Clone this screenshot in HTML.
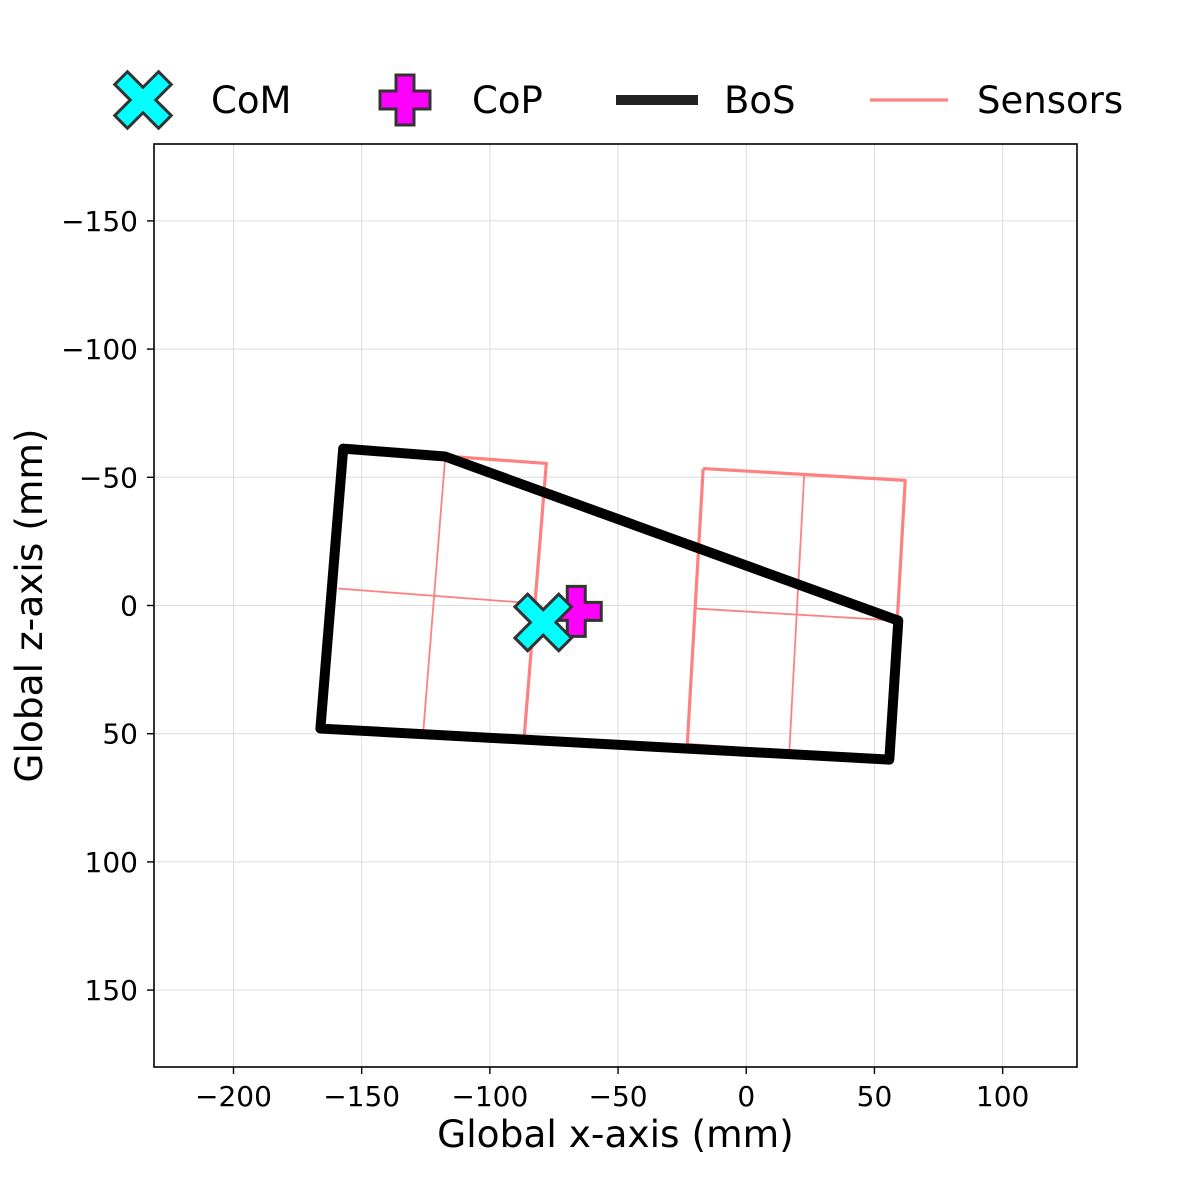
<!DOCTYPE html>
<html><head><meta charset="utf-8"><style>
html,body{margin:0;padding:0;background:#fff;}
svg{display:block;font-family:"DejaVu Sans","Liberation Sans",sans-serif;}
</style></head><body>
<svg id="chart" width="1200" height="1200" viewBox="0 0 1200 1200" xmlns="http://www.w3.org/2000/svg"></svg>
<script>
const xTicks=[-200,-150,-100,-50,0,50,100];
const zTicks=[-150,-100,-50,0,50,100,150];
const bosX=[-157.2,-117.4,59.3,55.8,-166.1,-157.2];
const bosZ=[-61.2,-58.1,5.9,60.1,48.0,-61.2];
const sensorOutlines=[
 {x:[-157.2,-78.0,-86.6,-166.1,-157.2],z:[-61.2,-55.4,51.1,48.0,-61.2]},
 {x:[-16.8,62.0,55.8,-23.0,-16.8],z:[-53.4,-48.8,60.1,54.2,-53.4]}
];
const sensorInner=[
 {x:[-117.4,-126.0],z:[-58.1,49.5]},
 {x:[-159.1,-82.3],z:[-6.6,-0.8]},
 {x:[22.6,16.8],z:[-51.1,56.9]},
 {x:[-19.5,58.9],z:[1.2,5.9]}
];
const comX=[-79.2], comZ=[6.6];
const copX=[-66.3], copZ=[2.3];

const L=154,R=1077,T=144,B=1067;
const xMin=-231,xMax=129,zMin=-180,zMax=180;
const sx=v=>L+(v-xMin)/(xMax-xMin)*(R-L);
const sz=v=>T+(v-zMin)/(zMax-zMin)*(B-T);
const svg=document.getElementById('chart');
const NS='http://www.w3.org/2000/svg';
function mk(tag,attrs,parent){const e=document.createElementNS(NS,tag);for(const k in attrs)e.setAttribute(k,attrs[k]);(parent||svg).appendChild(e);return e;}

xTicks.forEach(v=>{const l=mk('line',{x1:sx(v),x2:sx(v),y1:T,y2:B,stroke:'#dcdcdc','stroke-width':1});

});
zTicks.forEach(v=>{const l=mk('line',{x1:L,x2:R,y1:sz(v),y2:sz(v),stroke:'#dcdcdc','stroke-width':1});

});

const pts=(xs,zs)=>xs.map((x,i)=>sx(x)+','+sz(zs[i])).join(' ');
sensorInner.forEach(s=>{const p=mk('polyline',{points:pts(s.x,s.z),fill:'none',stroke:'#ff8080','stroke-width':1.8});

});
sensorOutlines.forEach(s=>{const p=mk('polyline',{points:pts(s.x,s.z),fill:'none',stroke:'#ff8080','stroke-width':3.2,'stroke-linejoin':'round'});

});
const bos=mk('polyline',{points:pts(bosX,bosZ),fill:'none',stroke:'#000','stroke-width':10,'stroke-linejoin':'round','stroke-linecap':'round'});



function plusPath(cx,cy,a,b){return `M${cx-b},${cy-a}H${cx+b}V${cy-b}H${cx+a}V${cy+b}H${cx+b}V${cy+a}H${cx-b}V${cy+b}H${cx-a}V${cy-b}H${cx-b}Z`;}
function xPath(cx,cy,a,b){const r=Math.SQRT1_2;const P=[[-b,-a],[b,-a],[b,-b],[a,-b],[a,b],[b,b],[b,a],[-b,a],[-b,b],[-a,b],[-a,-b],[-b,-b]];
return 'M'+P.map(([x,y])=>(cx+(x-y)*r)+','+(cy+(x+y)*r)).join('L')+'Z';}
copX.forEach((v,i)=>{const p=mk('path',{d:plusPath(sx(v),sz(copZ[i]),25,9),fill:'#ff00ff',stroke:'#333','stroke-width':3});

});
comX.forEach((v,i)=>{const p=mk('path',{d:xPath(sx(v),sz(comZ[i]),31,9),fill:'#00ffff',stroke:'#333','stroke-width':3});

});

const frame=mk('rect',{x:L,y:T,width:R-L,height:B-T,fill:'none',stroke:'#000','stroke-width':1.6});



xTicks.forEach(v=>{mk('line',{x1:sx(v),x2:sx(v),y1:B,y2:B+7,stroke:'#000','stroke-width':1.4});
const t=mk('text',{x:sx(v),y:B+39,'font-size':28,'text-anchor':'middle',fill:'#000'});t.textContent=v<0?'\u2212'+(-v):v;

});
zTicks.forEach(v=>{mk('line',{x1:L-7,x2:L,y1:sz(v),y2:sz(v),stroke:'#000','stroke-width':1.4});
const t=mk('text',{x:L-16,y:sz(v)+10,'font-size':28,'text-anchor':'end',fill:'#000'});t.textContent=v<0?'\u2212'+(-v):v;

});

const xl=mk('text',{x:(L+R)/2,y:1147,'font-size':37.5,'text-anchor':'middle'});xl.textContent='Global x-axis (mm)';


const zl=mk('text',{x:0,y:0,'font-size':37.5,'text-anchor':'middle',transform:`translate(42,${(T+B)/2}) rotate(-90)`});zl.textContent='Global z-axis (mm)';



const lg=mk('g',{});


const m1=mk('path',{d:xPath(143,100,31,9),fill:'#00ffff',stroke:'#333','stroke-width':3},lg);


const m2=mk('path',{d:plusPath(405,100,25,9),fill:'#ff00ff',stroke:'#333','stroke-width':3},lg);


const m3=mk('line',{x1:616,x2:698,y1:100,y2:100,stroke:'#222','stroke-width':10},lg);


const m4=mk('line',{x1:870,x2:948,y1:100,y2:100,stroke:'#ff8080','stroke-width':3.2},lg);


[['CoM',211],['CoP',472],['BoS',724],['Sensors',977]].forEach(([s,x])=>{const t=mk('text',{x:x,y:113,'font-size':37},lg);t.textContent=s;

});
</script>
</body></html>
